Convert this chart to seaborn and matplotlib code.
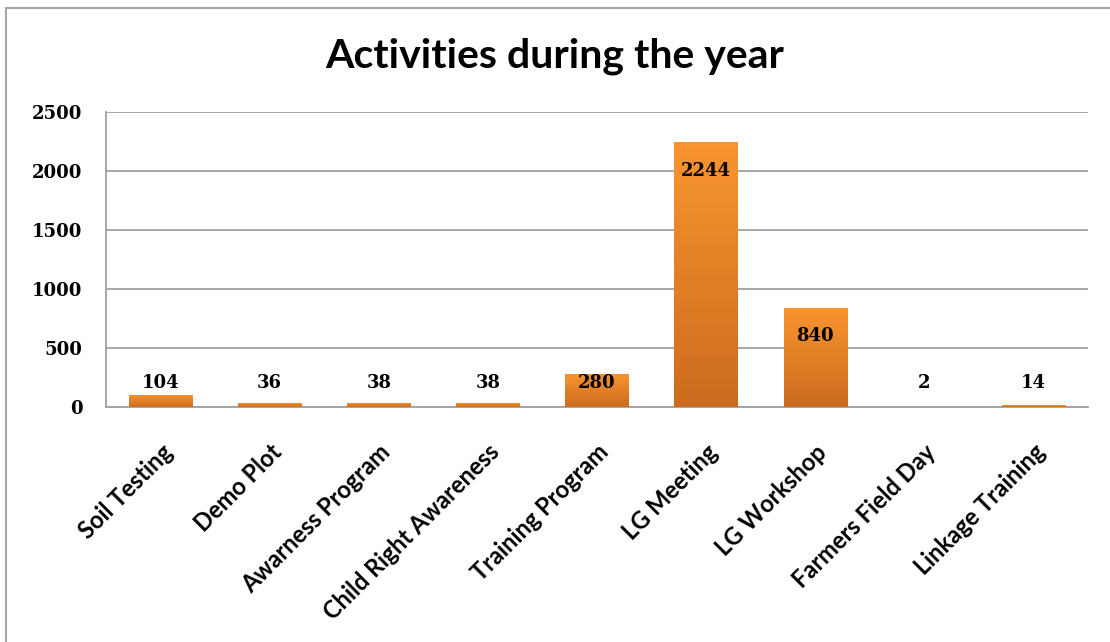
import matplotlib
matplotlib.use("Agg")
import matplotlib.pyplot as plt
import matplotlib.patches as mpatches
import numpy as np
import pandas as pd
import seaborn as sns
from matplotlib.colors import LinearSegmentedColormap

# Data ------------------------------------------------------------------------

activities = ["Soil Testing", "Demo Plot", "Awarness Program",
              "Child Right Awareness", "Training Program", "LG Meeting",
              "LG Workshop", "Farmers Field Day", "Linkage Training"]
counts = [104, 36, 38, 38, 280, 2244, 840, 2, 14]
y_ticks = [0, 500, 1000, 1500, 2000, 2500]

df = pd.DataFrame({"Activity": activities, "Count": counts})

# Figure ----------------------------------------------------------------------

sns.set_style("white")
plt.rcParams['font.family'] = ['Lato', 'DejaVu Sans']
plt.rcParams['text.color'] = 'black'
plt.rcParams['xtick.color'] = 'black'
plt.rcParams['ytick.color'] = 'black'

fig = plt.figure(figsize=(11.10, 6.42), dpi=100)
ax = fig.add_axes([106 / 1110, 1 - 407 / 642, (1088 - 106) / 1110, (407 - 112) / 642])

# outer chart border
fig.patches.append(mpatches.Rectangle((6 / 1110, -0.05), 1.2, 1 - 8 / 642 + 0.05,
                                      transform=fig.transFigure, fill=False,
                                      edgecolor="#a6a6a6", linewidth=1.5))

sns.barplot(data=df, x="Activity", y="Count", color="#e8862a", width=0.58,
            saturation=1, ax=ax, zorder=2)

# orange gradient on each bar
cmap = LinearSegmentedColormap.from_list("orng", ["#cc6b1e", "#f9952f"])
grad = np.linspace(0, 1, 256).reshape(-1, 1)
for p in ax.patches:
    x0, y0 = p.get_x(), p.get_y()
    w, h = p.get_width(), p.get_height()
    if h <= 0:
        continue
    im = ax.imshow(grad, cmap=cmap, origin="lower", aspect="auto",
                   extent=(x0, x0 + w, y0, y0 + h), zorder=3)
    im.set_clip_path(p)
    p.set_edgecolor("none")

ax.set_xlim(-0.5, len(activities) - 0.5)
ax.set_ylim(0, 2500)
ax.set_yticks(y_ticks)
ax.yaxis.grid(True, color="#a0a0a0", linewidth=1.3, zorder=0)
ax.set_axisbelow(True)

for s in ["top", "right"]:
    ax.spines[s].set_visible(False)
for s in ["left", "bottom"]:
    ax.spines[s].set_color("#a0a0a0")
    ax.spines[s].set_linewidth(1.3)

ax.set_xlabel("")
ax.set_ylabel("")

ax.set_xticks(range(len(activities)))
ax.set_xticklabels(activities, rotation=45, ha="right", va="top",
                   rotation_mode="anchor", fontsize=17, fontweight="bold",
                   color="black")
ax.tick_params(axis="x", length=0, pad=24)
ax.tick_params(axis="y", length=0, pad=17)
for t in ax.get_yticklabels():
    t.set_fontfamily("DejaVu Serif")
    t.set_fontweight("bold")
    t.set_fontsize(13)
    t.set_color("black")

# data labels
for i, v in enumerate(counts):
    ax.text(i, max(v - 240, 203), str(v), ha="center", va="center",
            fontsize=13, family="DejaVu Serif", fontweight="bold",
            color="black", zorder=5)

fig.text(0.5, 1 - 56 / 642, "Activities during the year", ha="center",
         va="center", fontsize=29.5, fontweight="bold", color="black")

fig.savefig("out.png", dpi=100)
